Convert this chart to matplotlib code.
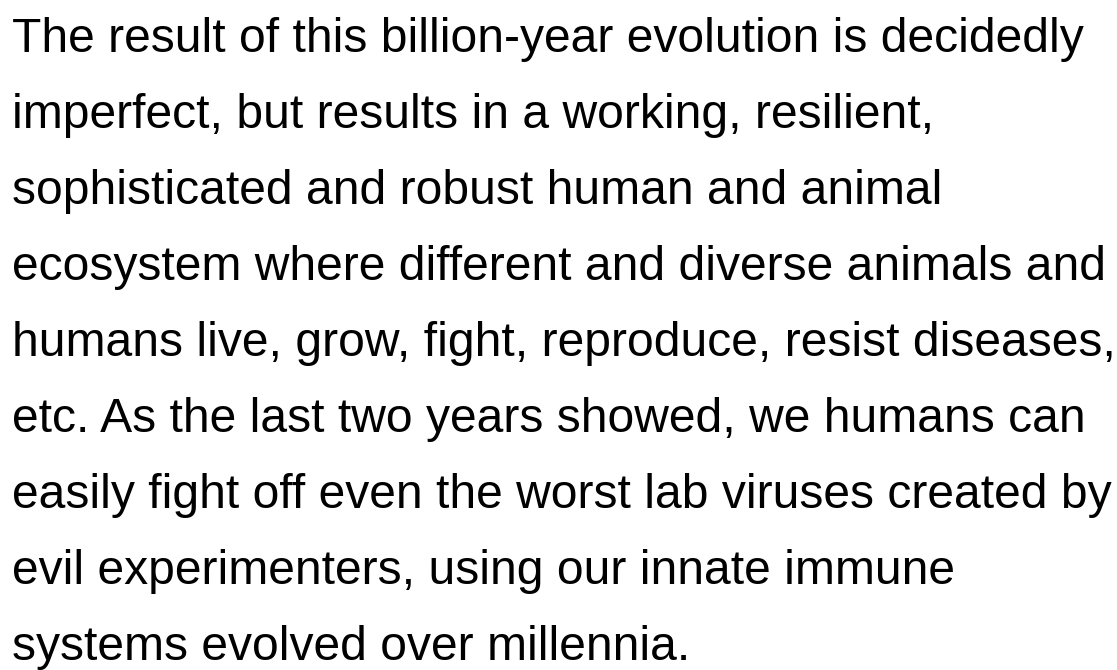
import matplotlib
matplotlib.use("Agg")
import matplotlib.pyplot as plt

lines = [
    "The result of this billion-year evolution is decidedly",
    "imperfect, but results in a working, resilient,",
    "sophisticated and robust human and animal",
    "ecosystem where different and diverse animals and",
    "humans live, grow, fight, reproduce, resist diseases,",
    "etc. As the last two years showed, we humans can",
    "easily fight off even the worst lab viruses created by",
    "evil experimenters, using our innate immune",
    "systems evolved over millennia.",
]

first_baseline = 52
line_step = 76
left = 12


def main():
    fig = plt.figure(figsize=(11.17, 6.7), dpi=100)
    ax = fig.add_axes([0, 0, 1, 1])
    ax.set_xlim(0, 1117)
    ax.set_ylim(670, 0)
    ax.axis("off")

    for i, line in enumerate(lines):
        ax.text(left, first_baseline + i * line_step, line,
                family=["Liberation Sans", "DejaVu Sans"],
                fontsize=34.6, color="black", va="baseline", ha="left")

    fig.savefig("out.png", dpi=100, facecolor="white")


if __name__ == "__main__":
    main()
